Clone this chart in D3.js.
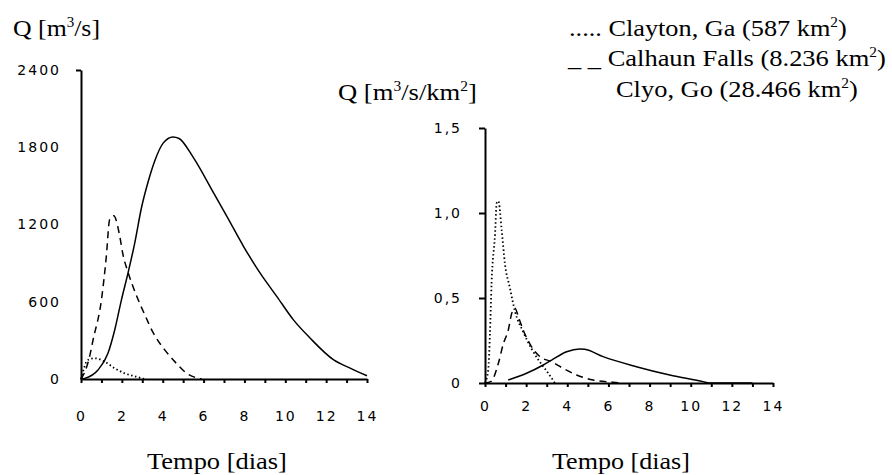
<!DOCTYPE html>
<html>
<head>
<meta charset="utf-8">
<script src="https://cdn.jsdelivr.net/npm/d3@7"></script>
<style>
  body { margin: 0; background: #fff; }
  svg { display: block; }
  .tick text { font-family: "DejaVu Sans", sans-serif; font-size: 14px; letter-spacing: 2px; fill: #000; }
  .title { font-family: "Liberation Serif", "Times New Roman", serif; font-size: 24px; fill: #000; }
</style>
</head>
<body>
<div id="chart"></div>
<script>
// left panel: discharge [m3/s]
const clyoDays = [0, 0.18, 0.83, 1.32, 1.65, 1.98, 2.3, 2.63, 2.96, 3.3, 3.6, 4.03, 4.5, 4.8, 5.51, 6.49, 7.14, 7.96, 8.77, 9.59, 10.4, 11.2, 12.37, 13.2, 14];
const clyoQ = [0, 5, 70, 200, 381, 615, 822, 1056, 1330, 1540, 1690, 1834, 1880, 1868, 1717, 1445, 1263, 1029, 822, 640, 459, 320, 148, 83, 25];
const calhaunDays = [0, 0.2, 0.42, 0.59, 1.0, 1.24, 1.4, 1.6, 1.9, 2.05, 2.3, 2.71, 3.12, 3.53, 4.1, 4.59, 5.18, 5.9];
const calhaunQ = [0, 60, 174, 303, 615, 952, 1237, 1268, 1107, 970, 830, 650, 500, 360, 226, 135, 44, 0];
const claytonDays = [0, 0.34, 0.67, 1.16, 1.65, 2.14, 2.71, 3.1];
const claytonQ = [0, 148, 161, 135, 83, 44, 18, 0];

// right panel: specific discharge [m3/s/km2]
const claytonSpDays = [0, 0.16, 0.24, 0.32, 0.49, 0.57, 0.65, 0.81, 0.97, 1.21, 1.46, 1.86, 2.27, 2.6, 3.0, 3.4];
const claytonSp = [0, 0.08, 0.29, 0.59, 0.88, 1.06, 1.07, 0.9, 0.7, 0.56, 0.42, 0.3, 0.2, 0.135, 0.07, 0];
const calhaunSpDays = [0, 0.3, 0.65, 0.89, 1.13, 1.3, 1.46, 1.62, 1.86, 2.18, 2.67, 3.24, 3.8, 4.45, 5.26, 6.2, 6.7];
const calhaunSp = [0, 0.01, 0.116, 0.23, 0.31, 0.41, 0.44, 0.39, 0.31, 0.23, 0.155, 0.125, 0.086, 0.047, 0.018, 0.005, 0];
const clyoSpDays = [1.13, 2.02, 2.83, 3.24, 3.97, 4.6, 4.85, 5.74, 7.36, 8.98, 10.6, 10.9, 13];
const clyoSp = [0.018, 0.057, 0.106, 0.135, 0.184, 0.2, 0.198, 0.155, 0.096, 0.047, 0.008, 0, 0];

const dayTicks = d3.range(0, 15);
const leftYTicks = [0, 600, 1200, 1800, 2400];
const rightYTicks = [0, 0.5, 1.0, 1.5];

const legendLines = [
  [["..... Clayton, Ga (587 km", 0], ["2", 1], [")", 0]],
  [["_ _ Calhaun Falls (8.236 km", 0], ["2", 1], [")", 0]],
  [["Clyo, Go (28.466 km", 0], ["2", 1], [")", 0]]
];

const width = 892, height = 475;
const svg = d3.select("#chart").append("svg")
  .attr("width", width).attr("height", height);

const styles = {
  solid: null,
  dashed: "7,5",
  dotted: "1.5,2.5"
};

function zip(xs, ys) { return xs.map((x, i) => [x, ys[i]]); }

// text with superscripts, stretched slightly to the reference width
function titleText(x, y, w, parts) {
  const g = svg.append("g");
  const t = g.append("text").attr("class", "title");
  let raised = false;
  parts.forEach(p => {
    const ts = t.append("tspan").text(p[0]);
    if (p[1]) { ts.attr("dy", -9).attr("font-size", 14); raised = true; }
    else if (raised) { ts.attr("dy", 9); raised = false; }
  });
  const bw = t.node().getBBox().width;
  g.attr("transform", `translate(${x},${y}) scale(${w / bw},1)`);
}

function panel(opt) {
  const x = d3.scaleLinear().domain([0, 14]).range([opt.x0, opt.x1]);
  const y = d3.scaleLinear().domain([0, opt.ymax]).range([opt.y0, opt.y1]);
  const g = svg.append("g");

  const xa = g.append("g")
    .attr("transform", `translate(0,${opt.y0})`)
    .call(d3.axisBottom(x).tickValues(dayTicks).tickSizeInner(4).tickSizeOuter(0)
      .tickPadding(opt.xPad).tickFormat(d => d % 2 === 0 ? d : ""));
  const ya = g.append("g")
    .attr("transform", `translate(${opt.x0},0)`)
    .call(d3.axisLeft(y).tickValues(opt.yTicks).tickSizeInner(opt.yTickSize).tickSizeOuter(0)
      .tickPadding(opt.yPad).tickFormat(opt.yFmt));
  if (opt.topTick) ya.select(".tick:last-of-type line").attr("x2", -5);
  [xa, ya].forEach(a => {
    a.select(".domain").attr("stroke", "#000").attr("stroke-width", 2);
    a.selectAll(".tick line").attr("stroke", "#000").attr("stroke-width", 2);
  });

  const line = d3.line().x(d => x(d[0])).y(d => y(d[1])).curve(d3.curveMonotoneX);
  opt.series.forEach(s => {
    g.append("path")
      .attr("d", line(zip(s.days, s.vals)))
      .attr("fill", "none")
      .attr("stroke", "#000")
      .attr("stroke-width", s.style === "dotted" ? 1.8 : 1.5)
      .attr("stroke-dasharray", styles[s.style]);
  });
}

panel({
  x0: 81, x1: 367, y0: 379, y1: 70, ymax: 2400,
  yTicks: leftYTicks, yTickSize: 0, topTick: true, yPad: 20, xPad: 28,
  yFmt: d => d,
  series: [
    {days: clyoDays, vals: clyoQ, style: "solid"},
    {days: calhaunDays, vals: calhaunQ, style: "dashed"},
    {days: claytonDays, vals: claytonQ, style: "dotted"}
  ]
});

panel({
  x0: 485, x1: 773, y0: 383, y1: 128, ymax: 1.5,
  yTicks: rightYTicks, yTickSize: 6, topTick: false, yPad: 17, xPad: 14,
  yFmt: d => d === 0 ? "0" : d3.format(".1f")(d).replace(".", ","),
  series: [
    {days: clyoSpDays, vals: clyoSp, style: "solid"},
    {days: calhaunSpDays, vals: calhaunSp, style: "dashed"},
    {days: claytonSpDays, vals: claytonSp, style: "dotted"}
  ]
});

titleText(13, 36, 87, [["Q [m", 0], ["3", 1], ["/s]", 0]]);
titleText(338, 100, 139, [["Q [m", 0], ["3", 1], ["/s/km", 0], ["2", 1], ["]", 0]]);
titleText(147, 469, 140, [["Tempo [dias]", 0]]);
titleText(552, 469, 138, [["Tempo [dias]", 0]]);
titleText(569, 36, 278, legendLines[0]);
titleText(568, 66, 319, legendLines[1]);
titleText(616, 97, 242, legendLines[2]);
</script>
</body>
</html>
